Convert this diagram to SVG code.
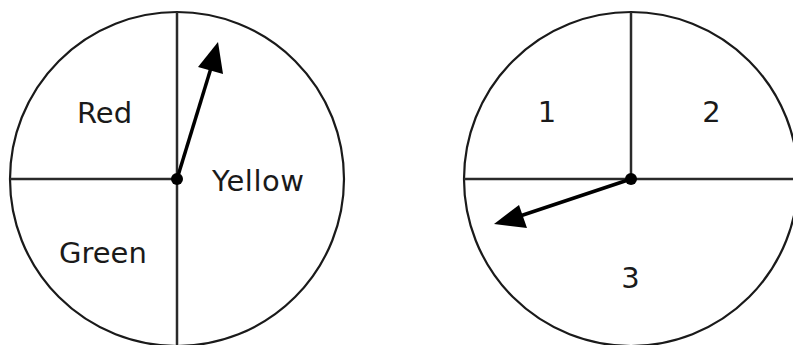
<svg xmlns="http://www.w3.org/2000/svg" width="793" height="345" viewBox="0 0 793 345">
<style>
.rim{fill:none;stroke:#1a1a1a;stroke-width:2.2}
.div{stroke:#2a2a2a;stroke-width:2.5;fill:none}
.shaft{stroke:#000;stroke-width:3.5;fill:none}
.head{fill:#000}
.lbl{font-family:"DejaVu Sans",Verdana,sans-serif;font-size:29px;fill:#1a1a1a}
</style>
<rect width="793" height="345" fill="#fff"/>
<g id="spinner-left">
<circle class="rim" cx="177" cy="179" r="167"/>
<line class="div" x1="10" y1="179" x2="177" y2="179"/>
<line class="div" x1="177" y1="12" x2="177" y2="345"/>
<text class="lbl" x="77" y="123">Red</text>
<text class="lbl" x="212" y="191" textLength="92">Yellow</text>
<text class="lbl" x="59" y="263">Green</text>
</g>
<g id="spinner-right">
<circle class="rim" cx="631" cy="179" r="167"/>
<line class="div" x1="464" y1="179" x2="793" y2="179"/>
<line class="div" x1="631" y1="12" x2="631" y2="179"/>
<text class="lbl" x="547" y="122" text-anchor="middle">1</text>
<text class="lbl" x="711.5" y="122" text-anchor="middle">2</text>
<text class="lbl" x="630.5" y="288" text-anchor="middle">3</text>
</g>
<g id="connectors">
<line class="shaft" x1="177" y1="179" x2="211" y2="68"/>
<polygon class="head" points="218,42 198,67 223,74"/>
<circle cx="177" cy="179" r="6" fill="#000"/>
<line class="shaft" x1="631" y1="179" x2="520" y2="216"/>
<polygon class="head" points="494,224 519,205 527,228"/>
<circle cx="631" cy="179" r="6" fill="#000"/>
</g>
</svg>
